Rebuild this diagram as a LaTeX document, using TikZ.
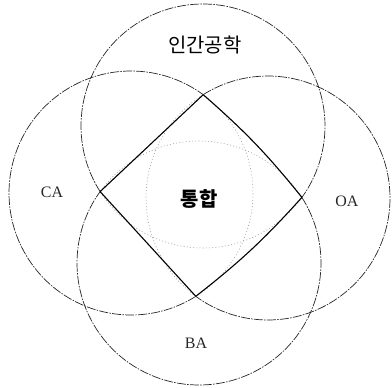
\documentclass[tikz,border=0pt]{standalone}
\usepackage{fontspec}
\setmainfont{Liberation Serif}
\newfontfamily\krfont{Noto Sans CJK KR}
\begin{document}
\begin{tikzpicture}[x=1bp,y=-1bp,
  ring/.style={black!85,line width=0.7pt,dash pattern=on 9pt off 1.3pt on 1.5pt off 1.3pt},
  inner/.style={black!40,line width=0.55pt,dash pattern=on 1pt off 2.2pt},
  lens/.style={black,line width=1.1pt,line join=round},
  lab/.style={font=\fontsize{16}{18}\selectfont,inner sep=0pt,text=black!85},
  krlab/.style={font=\krfont\fontsize{20}{22}\selectfont,inner sep=0pt}]
\useasboundingbox (0,0) rectangle (392,388);
% circle centres
\coordinate (T) at (203,126);
\coordinate (L) at (131,193);
\coordinate (R) at (268,198);
\coordinate (B) at (199,263);
% crossing points of the inner lens
\coordinate (tv) at (203.2,94.7);
\coordinate (rv) at (301.9,197.4);
\coordinate (bv) at (195.8,296.3);
\coordinate (lv) at (100.1,191.6);
% outer arcs
\draw[ring] ([shift={(147.5:122)}]T) arc[start angle=147.5,end angle=395.8,radius=122];
\draw[ring] ([shift={(327.5:122)}]B) arc[start angle=327.5,end angle=575.8,radius=122];
\draw[ring] ([shift={(57.9:122)}]L) arc[start angle=57.9,end angle=306.3,radius=122];
\draw[ring] ([shift={(237.9:122)}]R) arc[start angle=237.9,end angle=486.3,radius=122];
% inner arcs
\draw[inner] ([shift={(35.8:122)}]T) arc[start angle=35.8,end angle=147.5,radius=122];
\draw[inner] ([shift={(215.8:122)}]B) arc[start angle=215.8,end angle=327.5,radius=122];
\draw[inner] ([shift={(-53.7:122)}]L) arc[start angle=-53.7,end angle=57.9,radius=122];
\draw[inner] ([shift={(126.3:122)}]R) arc[start angle=126.3,end angle=237.9,radius=122];
% lens
\draw[lens] (tv) to[bend left=5] (rv) to[bend left=5] (bv) -- (lv) -- cycle;
% labels
\node[krlab] (top) at (205,45) {인간공학};
\node[krlab,font=\krfont\bfseries\fontsize{20}{22}\selectfont] (mid) at (199,199) {통합};
\node[lab] (ca) at (52,192) {CA};
\node[lab] (oa) at (347,201) {OA};
\node[lab] (ba) at (196,343) {BA};
\end{tikzpicture}
\end{document}
